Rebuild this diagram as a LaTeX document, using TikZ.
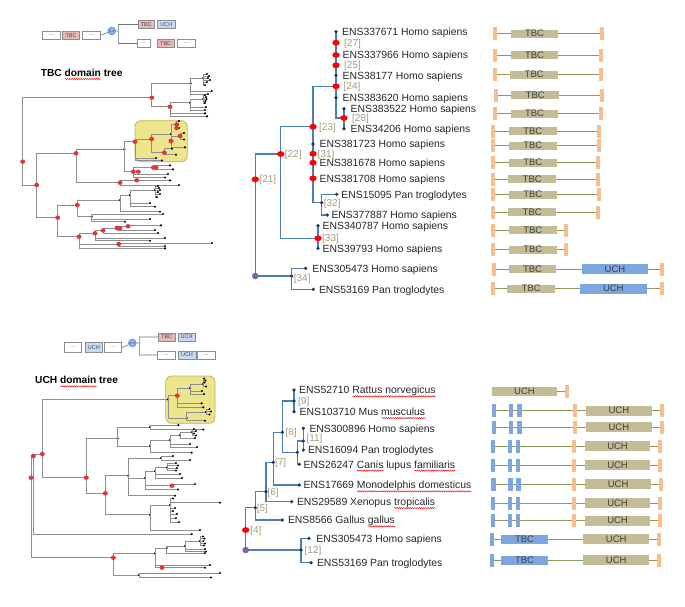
\documentclass[tikz,border=0pt]{standalone}
\usepackage{fontspec}
\setmainfont{Liberation Sans}
\usetikzlibrary{positioning,calc,decorations.pathmorphing}
\definecolor{treeblue}{HTML}{4A7EBB}
\definecolor{navydot}{HTML}{1F3864}
\definecolor{rootpurple}{HTML}{8064A2}
\definecolor{labtan}{HTML}{A39C78}
\definecolor{domtan}{HTML}{C4BC96}
\definecolor{domblue}{HTML}{7EA6DE}
\definecolor{stemgreen}{HTML}{8A9A5B}
\definecolor{tickorange}{HTML}{F9BE8F}
\definecolor{ovgray}{HTML}{8E8E8E}
\definecolor{ovred}{HTML}{E0353B}
\definecolor{hlyellow}{HTML}{EDE58C}
\definecolor{hledge}{HTML}{BFB25A}
\definecolor{legpink}{HTML}{E6B9B8}
\definecolor{legblue}{HTML}{C6D9F1}
\definecolor{legface}{HTML}{8DB3E2}
\newsavebox\spellbox
\newlength\spellwd
\newcommand\spell[1]{\sbox\spellbox{#1}\setlength\spellwd{\wd\spellbox}%
  \rlap{\raisebox{-2.6pt}[0pt][0pt]{\tikz[baseline=0pt]\draw[red, line width=0.45pt, decorate,
    decoration={snake, amplitude=0.6pt, segment length=2.2pt}] (0pt,0pt) -- (\spellwd,0pt);}}\usebox\spellbox}
\newcommand{\reddot}[1]{\fill[red] (#1) ellipse (3.7 and 2.9);}
\newcommand{\navy}[1]{\fill[navydot] (#1) circle (1.8);}
\newcommand{\ovdot}[1]{\fill[ovred] (#1) ellipse (2.5 and 2.2);}
\newcommand{\otick}[2]{\fill[tickorange] (#1-2,#2-6.5) rectangle (#1+2,#2+6.5);}
\newcommand{\btick}[2]{\fill[domblue] (#1-2.2,#2-6.5) rectangle (#1+2.2,#2+6.5);}

\begin{document}
\begin{tikzpicture}[x=1pt,y=-1pt,
  tline/.style={draw=treeblue, line width=1.1pt},
  ovline/.style={draw=ovgray, line width=0.7pt},
  lline/.style={draw=black!55, line width=0.6pt},
  stem/.style={draw=stemgreen, line width=0.9pt},
  sp/.style={inner sep=0.5pt, font=\fontsize{10.4}{12}\selectfont, text=black!85, text height=7.5pt, text depth=0pt},
  lab/.style={inner sep=0.5pt, font=\fontsize{10}{12}\selectfont, text=labtan, text height=7.3pt, text depth=0pt},
  head/.style={inner sep=0pt, anchor=west, font=\bfseries\fontsize{10.2}{12}\selectfont, text height=7.4pt, text depth=0pt},
  tanbox/.style={fill=domtan, inner sep=0pt, minimum height=8pt, font=\fontsize{9.5}{10}\selectfont, text=black!75},
  bluebox/.style={fill=domblue, inner sep=0pt, minimum height=10pt, font=\fontsize{9.5}{10}\selectfont, text=black!75},
  lbox/.style={draw=black!45, line width=0.5pt, inner sep=0pt, minimum height=8.3pt, font=\fontsize{5.5}{6}\selectfont, text=black!70},
  face/.style={circle, fill=legface, draw=treeblue, line width=0.4pt, inner sep=0pt, minimum size=8pt}
]
\useasboundingbox (0,0) rectangle (685,606);

%Legend TBC
\node[lbox, minimum width=17.7pt] (ta) at (51.2,35.2) {...};
\node[lbox, fill=legpink, minimum width=16.6pt] (tb) at (71,35.2) {TBC};
\node[lbox, minimum width=17.7pt] (tc) at (91.2,35.2) {...};
\node[face] (tf) at (111.7,31) {};
\fill[navydot] (110,31) circle (0.7) (113.4,31) circle (0.7);
\coordinate (tk) at (118.3,31);
\node[lbox, fill=legpink, minimum width=16pt] (td) at (146.3,24.5) {TBC};
\node[lbox, fill=legblue, minimum width=17.3pt] (te) at (166.3,24.5) {UCH};
\node[lbox, minimum width=12.7pt] (tg) at (143.7,43.5) {...};
\node[lbox, fill=legpink, minimum width=16.7pt] (th) at (165.7,43.5) {TBC};
\node[lbox, minimum width=17.3pt] (ti) at (186.3,43.5) {...};
\draw[lline] (tc.east) -- (tf) (tf) -- (tk) (tk) |- (td.west) (tk) |- (tg.west);
\node[head] (hd1) at (40.7,72.7) {TBC \spell{domain} tree};

%Overview TBC tree
\filldraw[fill=hlyellow, draw=hledge, line width=0.8pt, rounded corners=6pt] (135,120.7) rectangle (187.3,161.7);
\foreach \px/\py/\cx/\cy in {
  22.7/161.7/151.7/97.7, 22.7/161.7/36.7/185,
  151.7/97.7/190.7/83.3, 151.7/97.7/170/106.7,
  190.7/83.3/203.3/78, 190.7/83.3/211.7/91, 190.7/83.3/208/94,
  203.3/78/207/74, 203.3/78/209/76, 203.3/78/208/78, 203.3/78/210/80, 203.3/78/207/82, 203.3/78/205/85,
  170/106.7/190/102.7, 170/106.7/205/113.3, 170/106.7/207/116.3,
  190/102.7/203.3/99, 190/102.7/206/107, 190/102.7/205/110,
  203.3/99/205/95, 203.3/99/206/97, 203.3/99/206.5/99, 203.3/99/205.5/101, 203.3/99/205/103,
  36.7/185/76/153.3, 36.7/185/57.7/217.7,
  76/153.3/124.3/149.3, 76/153.3/120/182.7,
  124.3/149.3/135/141.7, 124.3/149.3/133.3/171.7,
  135/141.7/151.7/139, 135/141.7/156/158, 135/141.7/162/160.5,
  151.7/139/171/134, 151.7/139/164.3/152.7,
  171/134/176.7/124.5, 171/134/180/136, 171/134/185/147.3,
  176.7/124.5/179/121, 176.7/124.5/179/128,
  180/136/184/133, 180/136/184/139.5,
  164.3/152.7/172/148.7, 164.3/152.7/176/154.7,
  133.3/171.7/153.3/167.5, 133.3/171.7/168/174, 133.3/171.7/165/177.5,
  153.3/167.5/170/165.3, 153.3/167.5/173/169.3,
  120/182.7/136.7/180.3, 120/182.7/179/185,
  136.7/180.3/170/180.3,
  57.7/217.7/77.3/205, 57.7/217.7/79/236.7,
  77.3/205/120/200, 77.3/205/91.7/216.7,
  120/200/130/195, 120/200/160/211.7,
  130/195/155/190, 130/195/155/206.7, 130/195/150/203,
  155/190/158/186, 155/190/159/188, 155/190/160/190, 155/190/158/192, 155/190/160/194, 155/190/157/197,
  91.7/216.7/163/214, 91.7/216.7/150/219, 91.7/216.7/125/221.7,
  79/236.7/95/233.3, 79/236.7/118.7/244, 79/236.7/165/248.3,
  95/233.3/103/230.5, 95/233.3/165/238, 95/233.3/150/240.7,
  103/230.5/117/228, 103/230.5/158/233,
  117/228/128/226.3, 117/228/155/230,
  128/226.3/161/225.3,
  118.7/244/212/243, 118.7/244/165/246}
{
  \draw[ovline] (\px,\py) |- (\cx,\cy);
  \fill (\cx,\cy) circle (1.2);
}
\foreach \p in {{22.7,161.7},{151.7,97.7},{170,106.7},{36.7,185},{76,153.3},{135,141.7},{151.7,139},
  {176.7,124.5},{176.7,128},{180,136},{171,141},{164.3,152.7},{133.3,171.7},{138.3,171.7},{153.3,167.5},
  {156,167.5},{120,182.7},{136.7,180.3},{57.7,217.7},{77.3,205},{79,236.7},{95,233.3},{103,230.5},
  {117,228},{120,228},{128,226.3},{118.7,244}}
  {\ovdot{\p}}

%Legend UCH
\node[lbox, minimum width=17.3pt, minimum height=9.6pt] (ua) at (73,347.5) {...};
\node[lbox, fill=legblue, minimum width=17.7pt, minimum height=9.6pt] (ub) at (93.8,347.5) {UCH};
\node[lbox, minimum width=17.3pt, minimum height=9.6pt] (uc) at (113,347.5) {...};
\node[face] (uf) at (132.3,343) {};
\fill[navydot] (130.6,343) circle (0.7) (134,343) circle (0.7);
\coordinate (uk) at (139.3,343);
\node[lbox, fill=legpink, minimum width=16.7pt, minimum height=8pt] (ud) at (166.7,337) {TBC};
\node[lbox, fill=legblue, minimum width=16.7pt, minimum height=8pt] (ue) at (186.7,337) {UCH};
\node[lbox, minimum width=17.3pt, minimum height=8.5pt] (ug) at (166.3,355) {...};
\node[lbox, fill=legblue, minimum width=17.7pt, minimum height=8.5pt] (uh) at (187,355) {UCH};
\node[lbox, minimum width=17.3pt, minimum height=8.5pt] (ui) at (206.3,355) {...};
\draw[lline] (uc.east) -- (uf) (uf) -- (uk) (uk) |- (ud.west) (uk) |- (ug.west);
\node[head] (hd2) at (35,380) {UCH \spell{domain} tree};

%Overview UCH tree
\filldraw[fill=hlyellow, draw=hledge, line width=0.8pt, rounded corners=6pt] (165.7,376) rectangle (215,423.3);
\foreach \px/\py/\cx/\cy in {
  31/477.7/33.3/456, 31/477.7/113.3/557.7,
  33.3/456/42.3/454, 33.3/456/191.7/534,
  42.3/454/168/399.3, 42.3/454/86.3/477.7,
  168/399.3/177.3/395.7, 168/399.3/186.7/418,
  177.3/395.7/190/388, 177.3/395.7/201.7/403.3, 177.3/395.7/203.3/407.3,
  190/388/203/384, 190/388/202/391, 190/388/204/394,
  203/384/204/378.5, 203/384/205.5/380.5, 203/384/204.5/382.5, 203/384/206/386.5,
  186.7/418/206/412, 186.7/418/205/420.7,
  206/412/209.5/409, 206/412/211/411.5, 206/412/209.5/414.5,
  86.3/477.7/117.7/438.3, 86.3/477.7/105.3/493.3,
  117.7/438.3/150/427, 117.7/438.3/150/446,
  150/427/178.3/425, 150/427/203.3/429.5,
  150/446/170/440, 150/446/191.7/452.7,
  170/440/180/435, 170/440/190/444, 170/440/197/447,
  180/435/192/432, 180/435/195/438,
  192/432/194/429, 192/432/196/431, 192/432/194/433.5, 192/432/196/435.5,
  105.3/493.3/128.3/475.7, 105.3/493.3/150/514.7,
  128.3/475.7/161/458, 128.3/475.7/145/478, 128.3/475.7/175/495.7,
  161/458/173/456, 161/458/190/460,
  145/478/155/471, 145/478/172/485.7, 145/478/178/489.5,
  155/471/167/467.5, 155/471/180/474, 155/471/182/478,
  167/467.5/176/463, 167/467.5/178/465.5, 167/467.5/177/468, 167/467.5/176/470.5,
  172/485.7/195/484,
  150/514.7/170/505, 150/514.7/200/530,
  170/505/220/502.7, 170/505/173/498.5, 170/505/175/508, 170/505/173/511, 170/505/177/514, 170/505/176/518, 170/505/179/522,
  113.3/557.7/155/553.3, 113.3/557.7/139/575,
  155/553.3/166.7/548, 155/553.3/210/565, 155/553.3/162/567.7,
  162/567.7/205/567.7,
  166.7/548/185/546, 166.7/548/205/553,
  185/546/200/541, 185/546/205/549, 185/546/206/551.5,
  200/541/203/536.5, 200/541/204.5/538.5, 200/541/203.5/541, 200/541/205/543.5, 200/541/204/545.5,
  139/575/220/573, 139/575/211/577.5}
{
  \draw[ovline] (\px,\py) |- (\cx,\cy);
  \fill (\cx,\cy) circle (1.2);
}
\foreach \p in {{31,477.7},{33.3,456},{42.3,454},{177.3,395.7},{86.3,477.7},{105.3,493.3},{172,485.7},{113.3,557.7},{162,567.7}}
  {\ovdot{\p}}

%TBC tree
\coordinate (L1) at (336,31.7);
\coordinate (L2) at (336,55);
\coordinate (L3) at (336,75.3);
\coordinate (L4) at (336,97.7);
\coordinate (L5) at (344,108.7);
\coordinate (L6) at (344,128.7);
\coordinate (L7) at (313,144);
\coordinate (L8) at (313,162.7);
\coordinate (L9) at (313,178.3);
\coordinate (L10) at (336.7,194.3);
\coordinate (L11) at (327.3,215);
\coordinate (L12) at (318,225.7);
\coordinate (L13) at (318,248.3);
\coordinate (L14) at (305.7,268.3);
\coordinate (L15) at (313.3,289.3);
\coordinate (n27) at (336,42.7);
\coordinate (n25) at (336,65.3);
\coordinate (n24) at (336,86.3);
\coordinate (n28) at (344,118);
\coordinate (n23) at (313,126.7);
\coordinate (n31) at (313,153.7);
\coordinate (n32) at (321.7,202.7);
\coordinate (n22) at (280.7,154);
\coordinate (n33) at (318,238.3);
\coordinate (n21) at (255.3,179.3);
\coordinate (n34) at (291.7,276);
\coordinate (r0) at (255.3,276);
\draw[tline] (n24) |- (L1) (n24) |- (n28) (n28) |- (L5) (n28) |- (L6)
  (n23) |- (n24) (n23) |- (n32) (n32) |- (L10) (n32) |- (L11)
  (n22) |- (n23) (n22) |- (n33) (n33) |- (L12) (n33) |- (L13)
  (n21) |- (n22) (r0) |- (n21) (r0) |- (n34) (n34) |- (L14) (n34) |- (L15);
\foreach \c in {n27,L2,n25,n24,n28,n23,n31,L8,L9,n22,n33,n21} {\reddot{\c}}
\foreach \c in {L1,L3,L4,L5,L6,L7,n32,L10,L11,L12,L13,n34,L14,L15} {\navy{\c}}
\fill[rootpurple] (r0) circle (3.3);
%Labels
\node[lab, right=7.5pt of n27] {[27]};
\node[lab, right=7.5pt of n25] {[25]};
\node[lab, right=7pt of n24] {[24]};
\node[lab, right=7.5pt of n28] {[28]};
\node[lab, right=5.5pt of n23] {[23]};
\node[lab, right=4pt of n31] {[31]};
\node[lab, right=3.5pt of n22] {[22]};
\node[lab, right=3.5pt of n21] {[21]};
\node[lab, right=1.5pt of n32] {[32]};
\node[lab, right=3.5pt of n33] {[33]};
\node[lab, right=1.5pt of n34, yshift=-2.3pt] {[34]};
\node[sp, right=5.5pt of L1] (t1) {ENS337671 Homo sapiens};
\node[sp, right=6pt of L2] (t2) {ENS337966 Homo sapiens};
\node[sp, right=6pt of L3] (t3) {ENS38177 Homo sapiens};
\node[sp, right=6pt of L4] (t4) {ENS383620 Homo sapiens};
\node[sp, right=6pt of L5] (t5) {ENS383522 Homo sapiens};
\node[sp, right=6pt of L6] (t6) {ENS34206 Homo sapiens};
\node[sp, right=6pt of L7] (t7) {ENS381723 Homo sapiens};
\node[sp, right=6pt of L8] (t8) {ENS381678 Homo sapiens};
\node[sp, right=6pt of L9] (t9) {ENS381708 Homo sapiens};
\node[sp, right=4pt of L10] (t10) {ENS15095 Pan troglodytes};
\node[sp, right=3.5pt of L11] (t11) {ENS377887 Homo sapiens};
\node[sp, right=4pt of L12] (t12) {ENS340787 Homo sapiens};
\node[sp, right=4pt of L13] (t13) {ENS39793 Homo sapiens};
\node[sp, right=6pt of L14] (t14) {ENS305473 Homo sapiens};
\node[sp, right=5pt of L15] (t15) {ENS53169 Pan troglodytes};

%TBC domains
\foreach \yy/\xl/\xr [count=\i] in {33.7/495/601.7, 55/495/600.7, 74.7/494.7/600.7, 95/495.7/601.7,
  113.7/495/600.7, 131/493.3/599.3, 145.7/493.3/598.7, 162.7/493.3/598.3, 179/492.7/598.3,
  194.7/493.3/599, 212.3/492.7/598.3, 230.3/493.3/566, 249.7/493.3/565.7}
{
  \draw[stem] (\xl,\yy) -- (\xr,\yy);
  \otick{\xl}{\yy}
  \otick{\xr}{\yy}
  \node[tanbox, minimum width=47.6pt] (dt\i) at (\xl+39.5,\yy) {TBC};
}
\foreach \yy/\xl/\ul [count=\i] in {269.3/494/581.7, 288.7/492.7/580}
{
  \draw[stem] (\xl,\yy) -- (661.5,\yy);
  \otick{\xl}{\yy}
  \otick{661.5}{\yy}
  \node[tanbox, minimum width=47.6pt] (dx\i) at (\xl+38.5,\yy) {TBC};
  \node[bluebox, minimum width=66.6pt] (du\i) at (\ul+33.3,\yy) {UCH};
}

%UCH tree
\coordinate (B1) at (294,390);
\coordinate (B2) at (294,411.7);
\coordinate (B3) at (303.3,428.3);
\coordinate (B4) at (303.3,450);
\coordinate (B5) at (299.3,464.3);
\coordinate (B6) at (299.3,485);
\coordinate (B7) at (291.7,501.7);
\coordinate (B8) at (282.3,520);
\coordinate (B9) at (309,538.3);
\coordinate (B10) at (311,562.7);
\coordinate (b9) at (294,401);
\coordinate (b11) at (303.3,441);
\coordinate (b10) at (297.3,452.3);
\coordinate (b8) at (282.3,432.3);
\coordinate (b7) at (273.3,462.3);
\coordinate (b6) at (266,491.7);
\coordinate (b5) at (255.3,507.7);
\coordinate (b4) at (245.7,530);
\coordinate (b12) at (301,550);
\coordinate (s0) at (245.7,550);
\draw[tline] (b9) |- (B1) (b9) |- (B2) (b11) |- (B3) (b11) |- (B4)
  (b10) |- (b11) (b10) |- (B5) (b8) |- (b9) (b8) |- (b10)
  (b7) |- (b8) (b7) |- (B6) (b6) |- (b7) (b6) |- (B7) (b5) |- (b6) (b5) |- (B8)
  (b4) |- (b5) (s0) |- (b4) (s0) |- (b12) (b12) |- (B9) (b12) |- (B10);
\foreach \c in {B1,B2,B3,B4,B5,B6,B7,B8,B9,B10,b9,b11,b10,b8,b7,b6,b5,b12} {\navy{\c}}
\reddot{b4}
\fill[rootpurple] (s0) circle (3.3);
%Labels
\node[lab, right=3.5pt of b9] {[9]};
\node[lab, right=2.5pt of b11, yshift=2.7pt] {[11]};
\node[lab, right=2.5pt of b8] {[8]};
\node[lab, right=1pt of b7] {[7]};
\node[lab, right=0.8pt of b6] {[6]};
\node[lab, right=0.8pt of b5] {[5]};
\node[lab, right=4pt of b4] {[4]};
\node[lab, right=3pt of b12] {[12]};
\node[sp, right=4.5pt of B1] (s1) {ENS52710 \spell{Rattus norvegicus}};
\node[sp, right=5pt of B2] (s2) {ENS103710 Mus \spell{musculus}};
\node[sp, right=5.5pt of B3] (s3) {ENS300896 Homo sapiens};
\node[sp, right=4pt of B4] (s4) {ENS16094 Pan troglodytes};
\node[sp, right=3.7pt of B5] (s5) {ENS26247 \spell{Canis} lupus \spell{familiaris}};
\node[sp, right=3.7pt of B6] (s6) {ENS17669 \spell{Monodelphis domesticus}};
\node[sp, right=4.6pt of B7] (s7) {ENS29589 Xenopus \spell{tropicalis}};
\node[sp, right=5pt of B8] (s8) {ENS8566 Gallus \spell{gallus}};
\node[sp, right=6.7pt of B9] (s9) {ENS305473 Homo sapiens};
\node[sp, right=5.3pt of B10] (s10) {ENS53169 Pan troglodytes};

%UCH domains
\draw[stem] (557.3,391) -- (567.3,391);
\node[tanbox, minimum width=65.6pt, minimum height=9pt] (du0) at (524.5,391) {UCH};
\otick{567.3}{391}
\foreach \yy/\xl [count=\i] in {410.7/494, 427.3/494, 446/492.7, 465/492.7, 484.3/493.3, 503.3/492.7, 520.7/492.7}
{
  \draw[stem] (\xl,\yy) -- (\xl+167.7,\yy);
  \btick{\xl}{\yy}
  \btick{\xl+17}{\yy}
  \btick{\xl+25.3}{\yy}
  \otick{\xl+81}{\yy}
  \otick{\xl+167.7}{\yy}
  \node[tanbox, minimum width=65.7pt, minimum height=10pt] (dv\i) at (\xl+124.85,\yy) {UCH};
}
\foreach \yy [count=\i] in {539, 560.3}
{
  \draw[stem] (491.7,\yy) -- (659,\yy);
  \btick{491.7}{\yy}
  \otick{659}{\yy}
  \node[bluebox, minimum width=47.6pt, minimum height=9pt] (dw\i) at (524.5,\yy) {TBC};
  \node[tanbox, minimum width=65.7pt, minimum height=10pt] (dz\i) at (616.2,\yy) {UCH};
}
\end{tikzpicture}
\end{document}
